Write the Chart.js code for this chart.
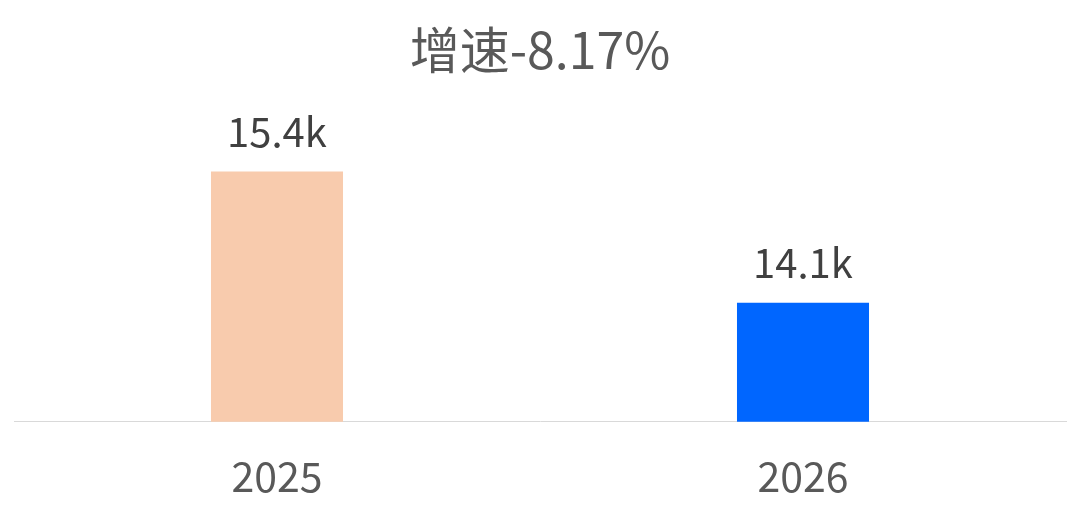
<!DOCTYPE html>
<html>
<head>
<meta charset="utf-8">
<script src="https://cdn.jsdelivr.net/npm/chart.js@4/dist/chart.umd.min.js"></script>
<style>
  html, body { margin: 0; padding: 0; background: #fff; }
  #wrap { width: 1080px; height: 510px; }
</style>
</head>
<body>
<div id="wrap"><canvas id="c" width="1080" height="510"></canvas></div>
<script>
const years = ['2025', '2026']
const values = [15400, 14142]
const barColors = ['#F8CBAD', '#0066FF']
const titleText = '增速-8.17%'

const FONT = '"Noto Sans CJK SC", "Noto Sans", sans-serif'

// value labels above each bar, e.g. 15.4k
const valueLabels = {
  id: 'valueLabels',
  afterDatasetsDraw(chart) {
    const ctx = chart.ctx
    const meta = chart.getDatasetMeta(0)
    ctx.save()
    ctx.font = '40px ' + FONT
    ctx.fillStyle = '#404040'
    ctx.textAlign = 'center'
    ctx.textBaseline = 'alphabetic'
    meta.data.forEach((bar, i) => {
      const txt = (values[i] / 1000).toFixed(1) + 'k'
      ctx.fillText(txt, bar.x, bar.y - 25)
    })
    ctx.restore()
  }
}

new Chart(document.getElementById('c'), {
  type: 'bar',
  data: {
    labels: years,
    datasets: [{
      data: values,
      backgroundColor: barColors,
      categoryPercentage: 1,
      barPercentage: 0.251,
    }]
  },
  options: {
    responsive: false,
    animation: false,
    layout: { padding: { left: 14, right: 14, top: 0, bottom: -21 } },
    plugins: {
      legend: { display: false },
      tooltip: { enabled: false },
      title: {
        display: true,
        text: titleText,
        color: '#595959',
        font: { family: FONT, size: 50, weight: 'normal', lineHeight: 1.2 },
        padding: { top: 20, bottom: 29 }
      }
    },
    scales: {
      x: {
        grid: { display: true, drawTicks: false, color: 'rgba(0,0,0,0)' },
        border: { display: true, color: '#d9d9d9', width: 1 },
        ticks: {
          color: '#595959',
          padding: 30,
          font: { family: FONT, size: 41, lineHeight: 1.2 }
        }
      },
      y: {
        display: false,
        min: 13000,
        max: 16000
      }
    }
  },
  plugins: [valueLabels]
})
</script>
</body>
</html>
